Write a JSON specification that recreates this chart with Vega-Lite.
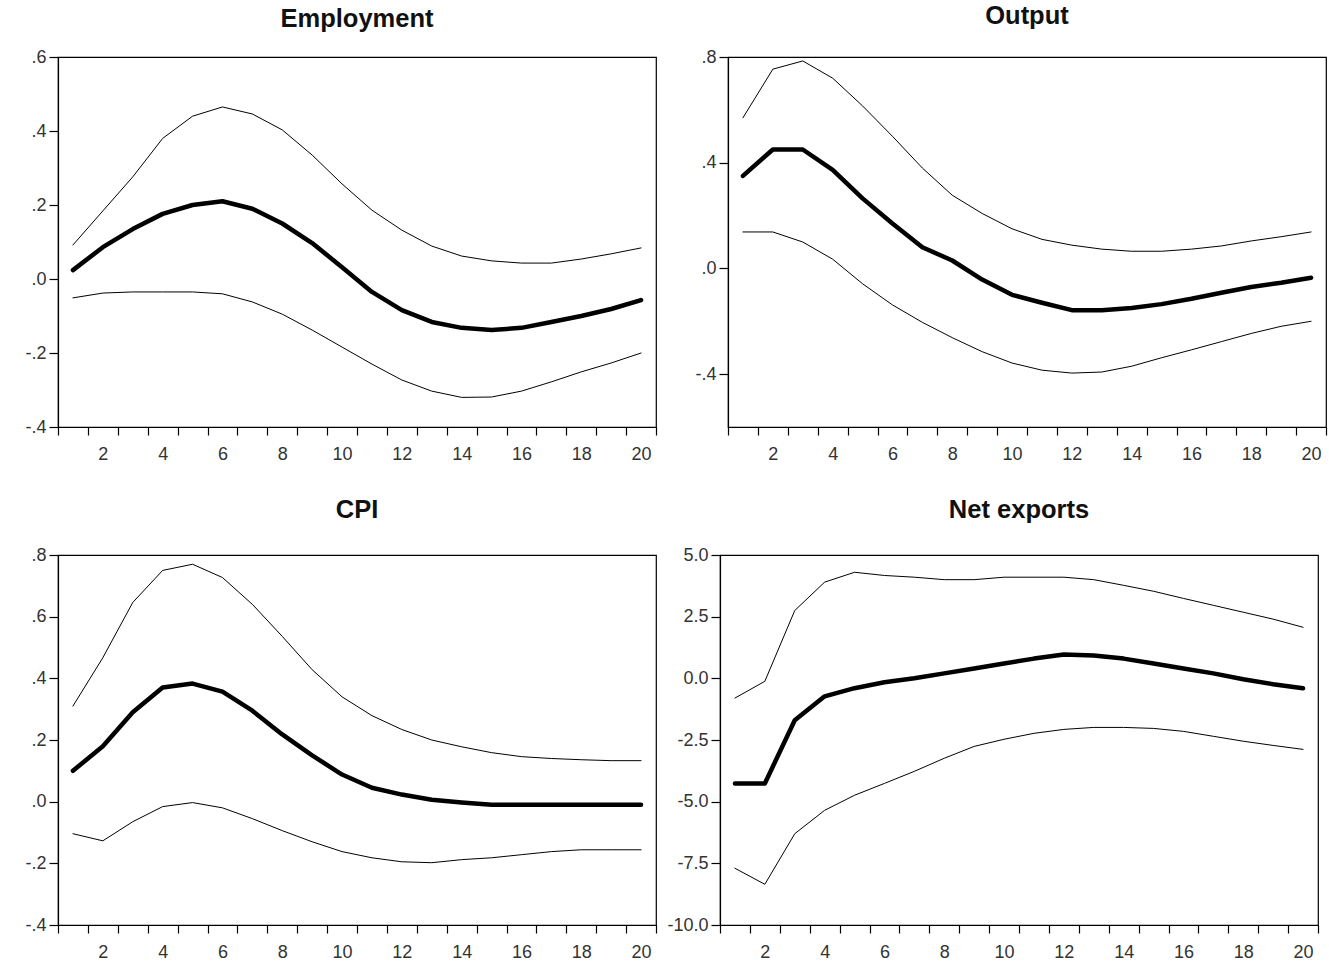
{
  "$schema": "https://vega.github.io/schema/vega-lite/v6.json",
  "padding": {"left": 24, "top": 2, "right": 0, "bottom": 0},
  "background": "white",
  "datasets": {
    "emp": [
      {"p": 1, "lo": -0.051, "m": 0.024, "hi": 0.092},
      {"p": 2, "lo": -0.038, "m": 0.086, "hi": 0.184},
      {"p": 3, "lo": -0.035, "m": 0.135, "hi": 0.276},
      {"p": 4, "lo": -0.035, "m": 0.176, "hi": 0.38},
      {"p": 5, "lo": -0.035, "m": 0.2, "hi": 0.44},
      {"p": 6, "lo": -0.04, "m": 0.21, "hi": 0.465},
      {"p": 7, "lo": -0.062, "m": 0.19, "hi": 0.446},
      {"p": 8, "lo": -0.095, "m": 0.15, "hi": 0.403},
      {"p": 9, "lo": -0.138, "m": 0.097, "hi": 0.335},
      {"p": 10, "lo": -0.184, "m": 0.032, "hi": 0.257},
      {"p": 11, "lo": -0.23, "m": -0.035, "hi": 0.186},
      {"p": 12, "lo": -0.273, "m": -0.084, "hi": 0.132},
      {"p": 13, "lo": -0.303, "m": -0.116, "hi": 0.089},
      {"p": 14, "lo": -0.32, "m": -0.132, "hi": 0.062},
      {"p": 15, "lo": -0.319, "m": -0.138, "hi": 0.049},
      {"p": 16, "lo": -0.303, "m": -0.132, "hi": 0.043},
      {"p": 17, "lo": -0.278, "m": -0.116, "hi": 0.043},
      {"p": 18, "lo": -0.251, "m": -0.1, "hi": 0.054},
      {"p": 19, "lo": -0.227, "m": -0.081, "hi": 0.068},
      {"p": 20, "lo": -0.2, "m": -0.057, "hi": 0.084}
    ],
    "out": [
      {"p": 1, "lo": 0.138, "m": 0.35, "hi": 0.57},
      {"p": 2, "lo": 0.138, "m": 0.45, "hi": 0.754},
      {"p": 3, "lo": 0.1, "m": 0.45, "hi": 0.785},
      {"p": 4, "lo": 0.035, "m": 0.373, "hi": 0.72},
      {"p": 5, "lo": -0.058, "m": 0.265, "hi": 0.615},
      {"p": 6, "lo": -0.138, "m": 0.17, "hi": 0.5},
      {"p": 7, "lo": -0.204, "m": 0.08, "hi": 0.38},
      {"p": 8, "lo": -0.262, "m": 0.03, "hi": 0.277},
      {"p": 9, "lo": -0.315, "m": -0.042, "hi": 0.208},
      {"p": 10, "lo": -0.358, "m": -0.1, "hi": 0.15},
      {"p": 11, "lo": -0.385, "m": -0.13, "hi": 0.11},
      {"p": 12, "lo": -0.396, "m": -0.158, "hi": 0.088},
      {"p": 13, "lo": -0.392, "m": -0.158, "hi": 0.073},
      {"p": 14, "lo": -0.37, "m": -0.15, "hi": 0.065},
      {"p": 15, "lo": -0.338, "m": -0.135, "hi": 0.065},
      {"p": 16, "lo": -0.308, "m": -0.115, "hi": 0.073},
      {"p": 17, "lo": -0.277, "m": -0.092, "hi": 0.085},
      {"p": 18, "lo": -0.246, "m": -0.07, "hi": 0.104},
      {"p": 19, "lo": -0.219, "m": -0.054, "hi": 0.12},
      {"p": 20, "lo": -0.2, "m": -0.035, "hi": 0.138}
    ],
    "cpi": [
      {"p": 1, "lo": -0.104, "m": 0.1, "hi": 0.31},
      {"p": 2, "lo": -0.127, "m": 0.18, "hi": 0.467},
      {"p": 3, "lo": -0.065, "m": 0.29, "hi": 0.646},
      {"p": 4, "lo": -0.016, "m": 0.37, "hi": 0.75},
      {"p": 5, "lo": -0.003, "m": 0.383, "hi": 0.77},
      {"p": 6, "lo": -0.02, "m": 0.357, "hi": 0.727},
      {"p": 7, "lo": -0.055, "m": 0.295, "hi": 0.64},
      {"p": 8, "lo": -0.094, "m": 0.218, "hi": 0.536},
      {"p": 9, "lo": -0.13, "m": 0.15, "hi": 0.428},
      {"p": 10, "lo": -0.162, "m": 0.088, "hi": 0.34},
      {"p": 11, "lo": -0.182, "m": 0.045, "hi": 0.279},
      {"p": 12, "lo": -0.195, "m": 0.023, "hi": 0.234},
      {"p": 13, "lo": -0.198, "m": 0.006, "hi": 0.2},
      {"p": 14, "lo": -0.188, "m": -0.003, "hi": 0.178},
      {"p": 15, "lo": -0.182, "m": -0.01, "hi": 0.159},
      {"p": 16, "lo": -0.172, "m": -0.01, "hi": 0.146},
      {"p": 17, "lo": -0.162, "m": -0.01, "hi": 0.14},
      {"p": 18, "lo": -0.156, "m": -0.01, "hi": 0.136},
      {"p": 19, "lo": -0.156, "m": -0.01, "hi": 0.133},
      {"p": 20, "lo": -0.156, "m": -0.01, "hi": 0.133}
    ],
    "nx": [
      {"p": 1, "lo": -7.7, "m": -4.26, "hi": -0.8},
      {"p": 2, "lo": -8.35, "m": -4.26, "hi": -0.12},
      {"p": 3, "lo": -6.3, "m": -1.7, "hi": 2.75},
      {"p": 4, "lo": -5.35, "m": -0.73, "hi": 3.9},
      {"p": 5, "lo": -4.74, "m": -0.4, "hi": 4.3},
      {"p": 6, "lo": -4.26, "m": -0.16, "hi": 4.17},
      {"p": 7, "lo": -3.77, "m": 0.0, "hi": 4.1},
      {"p": 8, "lo": -3.24, "m": 0.2, "hi": 4.0},
      {"p": 9, "lo": -2.76, "m": 0.4, "hi": 4.0},
      {"p": 10, "lo": -2.47, "m": 0.6, "hi": 4.1},
      {"p": 11, "lo": -2.23, "m": 0.8, "hi": 4.1},
      {"p": 12, "lo": -2.07, "m": 0.97, "hi": 4.1},
      {"p": 13, "lo": -1.99, "m": 0.93, "hi": 4.0},
      {"p": 14, "lo": -1.99, "m": 0.8, "hi": 3.77},
      {"p": 15, "lo": -2.03, "m": 0.6, "hi": 3.53},
      {"p": 16, "lo": -2.15, "m": 0.4, "hi": 3.24},
      {"p": 17, "lo": -2.35, "m": 0.2, "hi": 2.96},
      {"p": 18, "lo": -2.55, "m": -0.04, "hi": 2.68},
      {"p": 19, "lo": -2.72, "m": -0.24, "hi": 2.4},
      {"p": 20, "lo": -2.88, "m": -0.4, "hi": 2.07}
    ]
  },
  "config": {
    "view": {"stroke": "black", "strokeWidth": 1.2},
    "axis": {
      "grid": false,
      "domainColor": "black",
      "domainWidth": 1.2,
      "tickColor": "black",
      "tickWidth": 1.2,
      "labelFont": "Liberation Sans",
      "labelFontSize": 18,
      "labelColor": "#333",
      "labelFlush": false,
      "labelOverlap": false,
      "labelBound": false
    },
    "title": {"font": "Liberation Sans", "fontSize": 25.5, "fontWeight": "bold", "color": "#111", "anchor": "middle"}
  },
  "vconcat": [
    {
      "hconcat": [
        {
          "title": {"text": "Employment", "offset": 16},
          "width": 598, "height": 370,
          "data": {"name": "emp"},
          "transform": [{"fold": ["lo", "m", "hi"], "as": ["s", "v"]}],
          "encoding": {
            "x": {"field": "p", "type": "quantitative", "scale": {"domain": [0.5, 20.5], "nice": false, "zero": false},
              "axis": {"title": null, "values": [0.5,1,1.5,2,2.5,3,3.5,4,4.5,5,5.5,6,6.5,7,7.5,8,8.5,9,9.5,10,10.5,11,11.5,12,12.5,13,13.5,14,14.5,15,15.5,16,16.5,17,17.5,18,18.5,19,19.5,20,20.5],
                "labelExpr": "datum.value % 2 === 0 ? datum.value : ''",
                "tickOpacity": {"condition": {"test": "datum.value % 1 !== 0", "value": 1}, "value": 0},
                "tickSize": 8, "labelPadding": 10}}
          },
          "layer": [
            {
              "mark": {"type": "line", "color": "black", "strokeCap": "round", "strokeJoin": "round"},
              "encoding": {
                "y": {"field": "v", "type": "quantitative", "scale": {"domain": [-0.4, 0.6], "nice": false, "zero": false},
                  "axis": {"title": null, "values": [-0.4, -0.2, 0, 0.2, 0.4, 0.6], "labelExpr": "replace(replace(format(datum.value, '.1f'), '\u2212', '-'), '0.', '.')", "tickSize": 9, "labelPadding": 3}},
                "detail": {"field": "s", "type": "nominal"},
                "strokeWidth": {"condition": {"test": "datum.s === 'm'", "value": 4.5}, "value": 1}
              }
            },
            {"mark": {"type": "rule", "color": "black", "strokeWidth": 1.2}, "encoding": {"y": {"datum": 0}}}
          ]
        },
        {
          "title": {"text": "Output", "offset": 19},
          "width": 598, "height": 370,
          "data": {"name": "out"},
          "transform": [{"fold": ["lo", "m", "hi"], "as": ["s", "v"]}],
          "encoding": {
            "x": {"field": "p", "type": "quantitative", "scale": {"domain": [0.5, 20.5], "nice": false, "zero": false},
              "axis": {"title": null, "values": [0.5,1,1.5,2,2.5,3,3.5,4,4.5,5,5.5,6,6.5,7,7.5,8,8.5,9,9.5,10,10.5,11,11.5,12,12.5,13,13.5,14,14.5,15,15.5,16,16.5,17,17.5,18,18.5,19,19.5,20,20.5],
                "labelExpr": "datum.value % 2 === 0 ? datum.value : ''",
                "tickOpacity": {"condition": {"test": "datum.value % 1 !== 0", "value": 1}, "value": 0},
                "tickSize": 8, "labelPadding": 10}}
          },
          "layer": [
            {
              "mark": {"type": "line", "color": "black", "strokeCap": "round", "strokeJoin": "round"},
              "encoding": {
                "y": {"field": "v", "type": "quantitative", "scale": {"domain": [-0.6, 0.8], "nice": false, "zero": false},
                  "axis": {"title": null, "values": [-0.4, 0, 0.4, 0.8], "labelExpr": "replace(replace(format(datum.value, '.1f'), '\u2212', '-'), '0.', '.')", "tickSize": 9, "labelPadding": 3}},
                "detail": {"field": "s", "type": "nominal"},
                "strokeWidth": {"condition": {"test": "datum.s === 'm'", "value": 4.5}, "value": 1}
              }
            },
            {"mark": {"type": "rule", "color": "black", "strokeWidth": 1.2}, "encoding": {"y": {"datum": 0}}}
          ]
        }
      ],
      "spacing": 36
    },
    {
      "hconcat": [
        {
          "title": {"text": "CPI", "offset": 23},
          "width": 598, "height": 370,
          "data": {"name": "cpi"},
          "transform": [{"fold": ["lo", "m", "hi"], "as": ["s", "v"]}],
          "encoding": {
            "x": {"field": "p", "type": "quantitative", "scale": {"domain": [0.5, 20.5], "nice": false, "zero": false},
              "axis": {"title": null, "values": [0.5,1,1.5,2,2.5,3,3.5,4,4.5,5,5.5,6,6.5,7,7.5,8,8.5,9,9.5,10,10.5,11,11.5,12,12.5,13,13.5,14,14.5,15,15.5,16,16.5,17,17.5,18,18.5,19,19.5,20,20.5],
                "labelExpr": "datum.value % 2 === 0 ? datum.value : ''",
                "tickOpacity": {"condition": {"test": "datum.value % 1 !== 0", "value": 1}, "value": 0},
                "tickSize": 8, "labelPadding": 10}}
          },
          "layer": [
            {
              "mark": {"type": "line", "color": "black", "strokeCap": "round", "strokeJoin": "round"},
              "encoding": {
                "y": {"field": "v", "type": "quantitative", "scale": {"domain": [-0.4, 0.8], "nice": false, "zero": false},
                  "axis": {"title": null, "values": [-0.4, -0.2, 0, 0.2, 0.4, 0.6, 0.8], "labelExpr": "replace(replace(format(datum.value, '.1f'), '\u2212', '-'), '0.', '.')", "tickSize": 9, "labelPadding": 3}},
                "detail": {"field": "s", "type": "nominal"},
                "strokeWidth": {"condition": {"test": "datum.s === 'm'", "value": 4.5}, "value": 1}
              }
            },
            {"mark": {"type": "rule", "color": "black", "strokeWidth": 1.2}, "encoding": {"y": {"datum": 0}}}
          ]
        },
        {
          "title": {"text": "Net exports", "offset": 23},
          "width": 598, "height": 370,
          "data": {"name": "nx"},
          "transform": [{"fold": ["lo", "m", "hi"], "as": ["s", "v"]}],
          "encoding": {
            "x": {"field": "p", "type": "quantitative", "scale": {"domain": [0.5, 20.5], "nice": false, "zero": false},
              "axis": {"title": null, "values": [0.5,1,1.5,2,2.5,3,3.5,4,4.5,5,5.5,6,6.5,7,7.5,8,8.5,9,9.5,10,10.5,11,11.5,12,12.5,13,13.5,14,14.5,15,15.5,16,16.5,17,17.5,18,18.5,19,19.5,20,20.5],
                "labelExpr": "datum.value % 2 === 0 ? datum.value : ''",
                "tickOpacity": {"condition": {"test": "datum.value % 1 !== 0", "value": 1}, "value": 0},
                "tickSize": 8, "labelPadding": 10}}
          },
          "layer": [
            {
              "mark": {"type": "line", "color": "black", "strokeCap": "round", "strokeJoin": "round"},
              "encoding": {
                "y": {"field": "v", "type": "quantitative", "scale": {"domain": [-10, 5], "nice": false, "zero": false},
                  "axis": {"title": null, "values": [-10, -7.5, -5, -2.5, 0, 2.5, 5], "labelExpr": "replace(format(datum.value, '.1f'), '\u2212', '-')", "tickSize": 9, "labelPadding": 3}},
                "detail": {"field": "s", "type": "nominal"},
                "strokeWidth": {"condition": {"test": "datum.s === 'm'", "value": 4.5}, "value": 1}
              }
            },
            {"mark": {"type": "rule", "color": "black", "strokeWidth": 1.2}, "encoding": {"y": {"datum": 0}}}
          ]
        }
      ],
      "spacing": 8
    }
  ],
  "spacing": 32
}
